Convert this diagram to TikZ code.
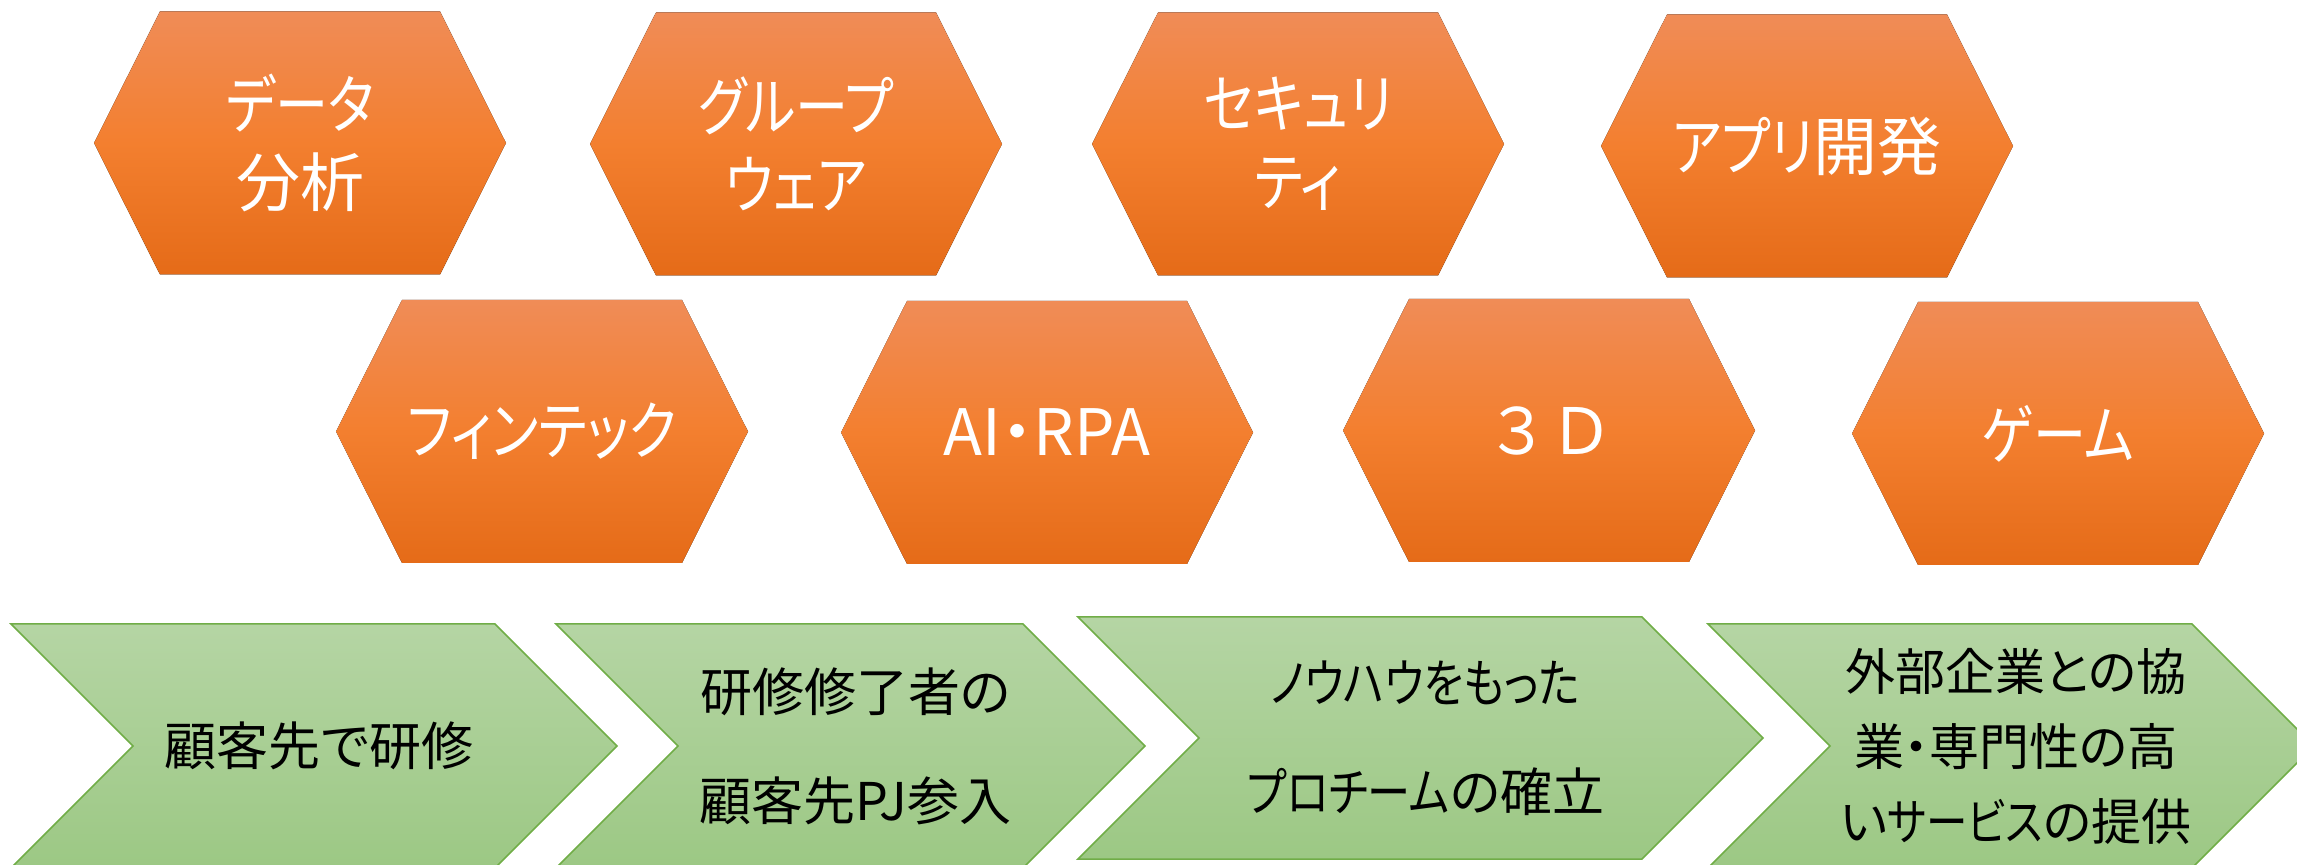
\documentclass[tikz,border=0pt]{standalone}
\usepackage{fontspec}
\newfontfamily\jpfont[CharacterWidth=AlternateProportional]{Noto Sans CJK JP}
\newfontfamily\jpfull{Noto Sans CJK JP}
\newcommand{\narrowkana}[1]{{\addfontfeature{FakeStretch=0.83}#1}}
\usepackage{tikz}

\definecolor{hextop}{HTML}{F08C57}
\definecolor{hexmid}{HTML}{F37F2F}
\definecolor{hexbot}{HTML}{E56B18}
\definecolor{chevtop}{HTML}{B5D5A4}
\definecolor{chevbot}{HTML}{9CC884}
\definecolor{chevline}{HTML}{70AD47}

\begin{document}
\begin{tikzpicture}[x=0.5pt,y=-0.5pt,
    hexfill/.style={top color=hextop, bottom color=hexbot, middle color=hexmid},
    hextext/.style={text=white, align=center, font=\jpfont\fontsize{32}{39}\selectfont},
    chevfill/.style={top color=chevtop, bottom color=chevbot, draw=chevline, line width=0.75pt},
    chevtext/.style={text=black, align=center, font=\jpfont\fontsize{26}{54.5}\selectfont},
    chevsmall/.style={chevtext, font=\jpfont\fontsize{25}{37.5}\selectfont}]
    \useasboundingbox (0,0) rectangle (2297,865);

    % Define the size of the hexagons
    \def\hexw{206}
    \def\hexin{66}
    \def\hexh{131.5}

    % Draw the hexagons with the fields
    \foreach \cx/\cy/\nm/\txt in {300/143/data/{\narrowkana{データ}\\分析},
        796/144/group/{\narrowkana{グループ}\\\narrowkana{ウェア}},
        1298/144/secu/{\narrowkana{セキュリ}\\\narrowkana{ティ}}, 1807/146/app/{\narrowkana{アプリ}開発},
        542/431.5/fin/{\narrowkana{フィンテック}}, 1047/432.5/ai/{AI・RPA},
        1549/430.5/threed/{\jpfull ３Ｄ}, 2058/433.5/game/{\narrowkana{ゲーム}}} {
      \fill[hexfill] (\cx-\hexw,\cy) -- (\cx-\hexw+\hexin,\cy-\hexh) -- (\cx+\hexw-\hexin,\cy-\hexh)
        -- (\cx+\hexw,\cy) -- (\cx+\hexw-\hexin,\cy+\hexh) -- (\cx-\hexw+\hexin,\cy+\hexh) -- cycle;
      \node[hextext] (\nm) at (\cx,\cy) {\txt};
    }

    % Draw the steps as chevrons
    \foreach \lx/\ty/\w/\h/\nm/\sty/\txt in {11/624/606/244/train/chevtext/{顧客先で研修},
        556/624/589/244/join/chevtext/{研修修了者の\\顧客先PJ参入},
        1078/617/685/242/team/chevtext/{\narrowkana{ノウハウをもった}\\\narrowkana{プロチーム}の確立},
        1708/624/606/244/serv/chevsmall/{外部企業との協\\業・専門性の高\\い\narrowkana{サービス}の提供}} {
      \draw[chevfill] (\lx,\ty) -- (\lx+\w-\h/2,\ty) -- (\lx+\w,\ty+\h/2) -- (\lx+\w-\h/2,\ty+\h)
        -- (\lx,\ty+\h) -- (\lx+\h/2,\ty+\h/2) -- cycle;
      \node[\sty] (\nm) at (\lx+\w/2+5,\ty+\h/2) {\txt};
    }
\end{tikzpicture}
\end{document}
